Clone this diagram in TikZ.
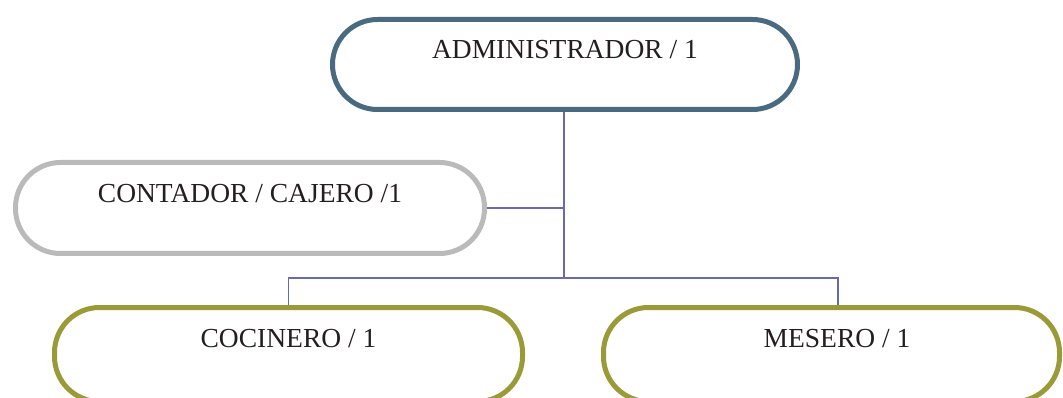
\documentclass[tikz,border=0pt]{standalone}
\usepackage{fontspec}
\setmainfont{Liberation Serif}
\definecolor{adminc}{HTML}{4A6A80}
\definecolor{grayc}{HTML}{BABABA}
\definecolor{olivec}{HTML}{9A9A38}
\definecolor{connc}{HTML}{6A6AAA}
\definecolor{txtc}{HTML}{231F20}
\tikzset{
  box/.style={draw, line width=5pt, rounded corners=45pt, fill=white,
    minimum height=91pt, inner sep=0pt, text=txtc,
    font=\fontsize{27.5}{30}\selectfont, text height=20pt, text depth=31pt},
  conn/.style={draw=connc, line width=1.8pt}
}
\begin{document}
\begin{tikzpicture}[x=1pt,y=-1pt]
\useasboundingbox (0,0) rectangle (1063,398);
\node[box, draw=adminc, minimum width=465pt, minimum height=90pt] (admin) at (565,64.5) {ADMINISTRADOR / 1};
\node[box, draw=grayc, minimum width=469pt] (contador) at (250,208) {CONTADOR / CAJERO /1};
\node[box, draw=olivec, minimum width=468pt, minimum height=94pt, text depth=34pt] (cocinero) at (288.5,354.5) {COCINERO / 1};
\node[box, draw=olivec, minimum width=456pt, minimum height=94pt, text depth=34pt] (mesero) at (831.5,354.5) {\hspace*{11pt}MESERO / 1};
\coordinate (bus) at (564,278);
\coordinate (mtop) at ([xshift=6.5pt]mesero.north);
\draw[conn] ([xshift=-1pt]admin.south) -- (bus);
\draw[conn] (contador.east) -- (contador.east -| bus);
\draw[conn] (cocinero.north) |- (bus) -| (mtop);
\end{tikzpicture}
\end{document}
